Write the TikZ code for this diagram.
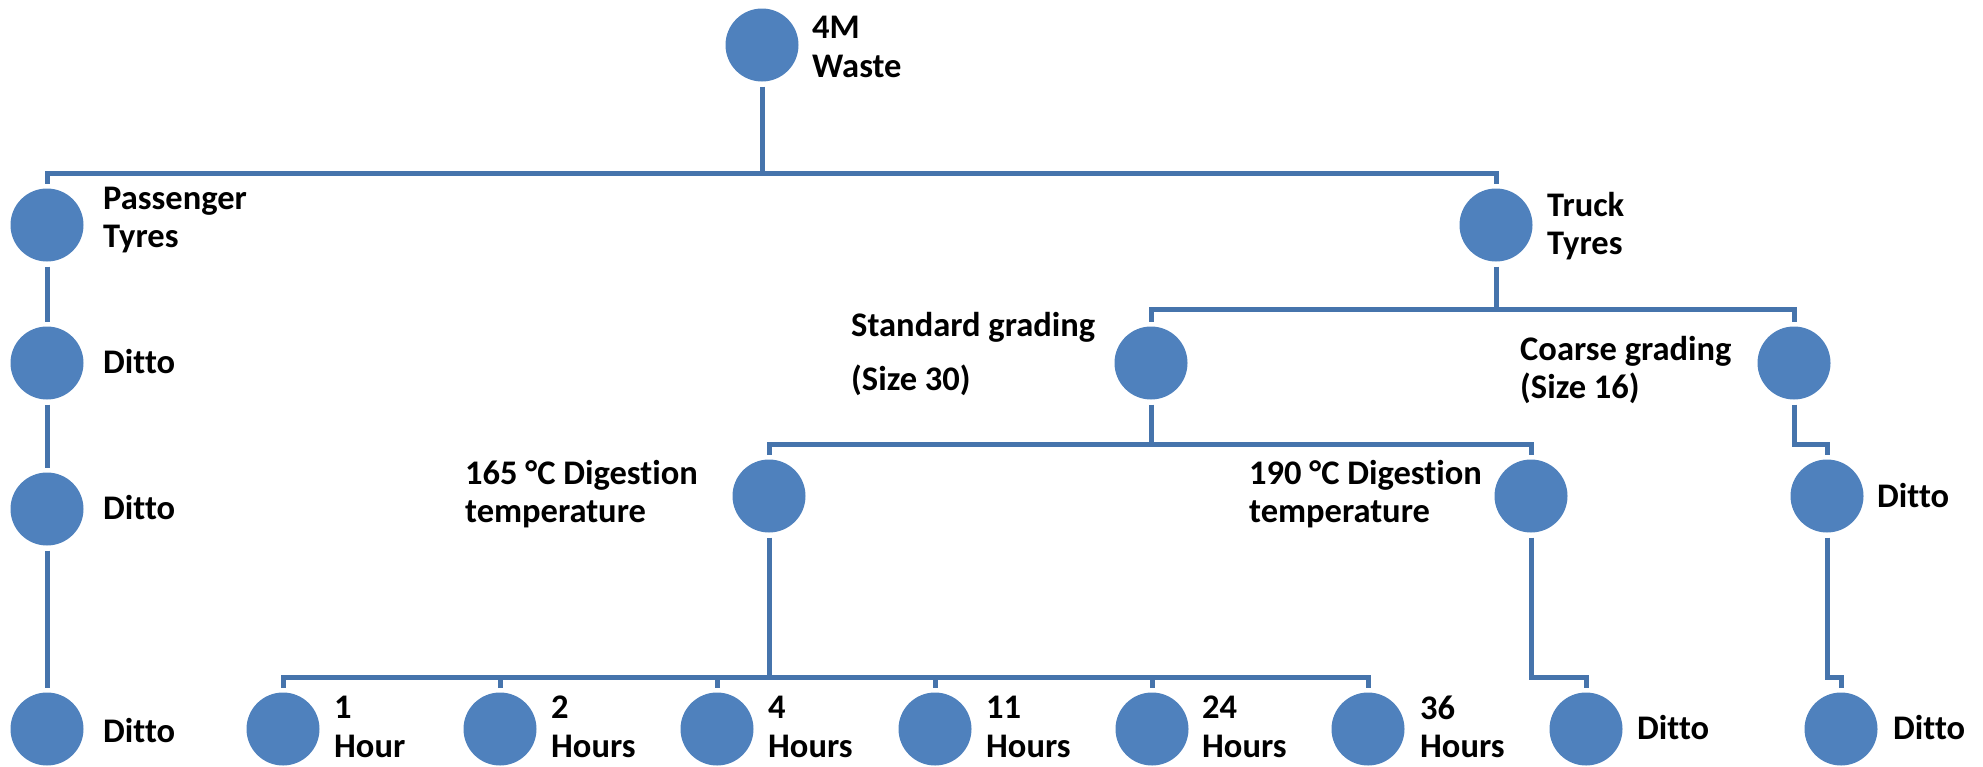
\documentclass[tikz,border=0pt]{standalone}
\usepackage{fontspec}
\setmainfont{Carlito}[Ligatures=NoCommon]
\definecolor{nodeblue}{HTML}{4F81BD}
\definecolor{lineblue}{HTML}{4674AC}
\begin{document}
\begin{tikzpicture}[x=1pt,y=-1pt,
  dot/.style={circle,fill=nodeblue,minimum size=73pt,inner sep=0pt,outer sep=5pt},
  lbl/.style={anchor=west,align=left,inner sep=0pt,font=\fontsize{34.5}{38.5}\selectfont\bfseries},
  link/.style={draw=lineblue,line width=5pt}]
\useasboundingbox (0,0) rectangle (1983,766);
% nodes
\node[dot] (root) at (762,45) {};
\node[lbl] (rootL) at (812,47) {4M\\Waste};
\node[dot] (pass) at (47,225) {};
\node[lbl] (passL) at (103,220) {Passenger\\Tyres};
\node[dot] (pd1) at (47,363) {};
\node[lbl] (pd1L) at (103,362) {Ditto};
\node[dot] (pd2) at (47,509) {};
\node[lbl] (pd2L) at (103,508) {Ditto};
\node[dot] (pd3) at (47,729) {};
\node[lbl] (pd3L) at (103,731) {Ditto};
\node[dot] (truck) at (1496,225) {};
\node[lbl] (truckL) at (1547,226) {Truck\\Tyres};
\node[dot] (std) at (1151,363) {};
\node[lbl] (stdL) at (851,354) {Standard grading\\[15.5pt](Size 30)};
\node[dot] (coarse) at (1794,363) {};
\node[lbl] (coarseL) at (1520,370) {Coarse grading\\(Size 16)};
\node[dot] (d165) at (769,496) {};
\node[lbl] (d165L) at (465,494) {165 °C Digestion\\temperature};
\node[dot] (d190) at (1531,496) {};
\node[lbl] (d190L) at (1249,494) {190 °C Digestion\\temperature};
\node[dot] (cd) at (1827,496) {};
\node[lbl] (cdL) at (1877,496) {Ditto};
\node[dot] (h1) at (283,729) {};
\node[lbl] (h1L) at (334,727) {1\\Hour};
\node[dot] (h2) at (500,729) {};
\node[lbl] (h2L) at (551,727) {2\\Hours};
\node[dot] (h4) at (717,729) {};
\node[lbl] (h4L) at (768,727) {4\\Hours};
\node[dot] (h11) at (935,729) {};
\node[lbl] (h11L) at (986,727) {11\\Hours};
\node[dot] (h24) at (1152,729) {};
\node[lbl] (h24L) at (1202,727) {24\\Hours};
\node[dot] (h36) at (1368,729) {};
\node[lbl] (h36L) at (1420,727) {36\\Hours};
\node[dot] (d190b) at (1586,729) {};
\node[lbl] (d190bL) at (1637,728) {Ditto};
\node[dot] (cdb) at (1841,729) {};
\node[lbl] (cdbL) at (1893,728) {Ditto};
% junctions
\coordinate (j1) at (762,173);
\coordinate (j2) at (1496,309);
\coordinate (j3) at (1151,444);
\coordinate (j4) at (1794,444);
\coordinate (j5) at (769,677);
\coordinate (j6) at (1531,677);
\coordinate (j7) at (1827,677);
% connectors
\draw[link] (root.south) -- (j1) -| (pass.north);
\draw[link] (j1) -| (truck.north);
\draw[link] (pass.south) -- (pd1.north);
\draw[link] (pd1.south) -- (pd2.north);
\draw[link] (pd2.south) -- (pd3.north);
\draw[link] (truck.south) -- (j2) -| (std.north);
\draw[link] (j2) -| (coarse.north);
\draw[link] (std.south) -- (j3) -| (d165.north);
\draw[link] (j3) -| (d190.north);
\draw[link] (coarse.south) -- (j4) -| (cd.north);
\draw[link] (d165.south) -- (j5) -| (h1.north);
\draw[link] (j5) -| (h2.north);
\draw[link] (j5) -| (h4.north);
\draw[link] (j5) -| (h11.north);
\draw[link] (j5) -| (h24.north);
\draw[link] (j5) -| (h36.north);
\draw[link] (d190.south) -- (j6) -| (d190b.north);
\draw[link] (cd.south) -- (j7) -| (cdb.north);
\end{tikzpicture}
\end{document}
